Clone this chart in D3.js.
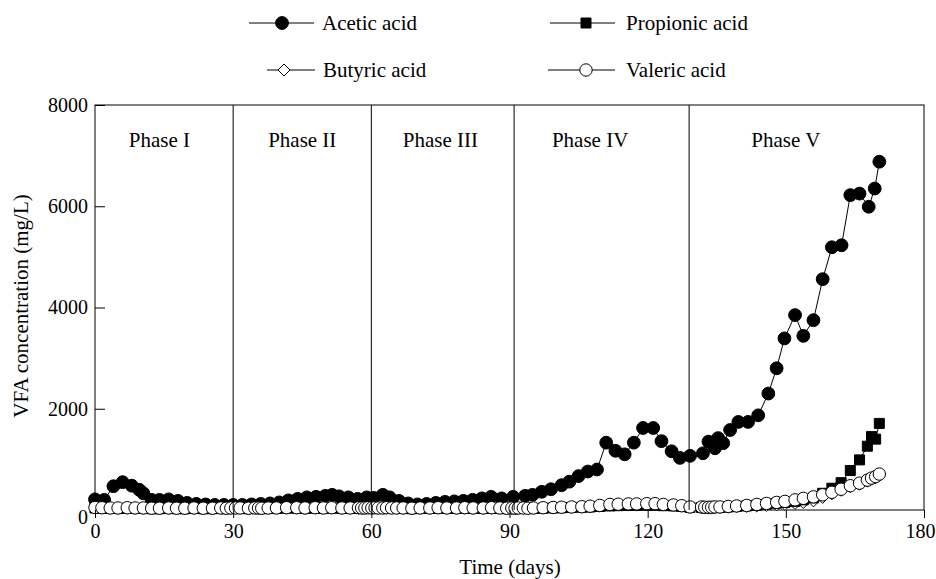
<!DOCTYPE html>
<html>
<head>
<meta charset="utf-8">
<script src="https://cdn.jsdelivr.net/npm/d3@7/dist/d3.min.js"></script>
<style>
  html, body { margin: 0; padding: 0; background: #fff; }
  svg text { font-family: "Liberation Serif", "Times New Roman", serif; fill: #000; }
</style>
</head>
<body>
<svg id="chart" width="936" height="579"></svg>
<script>
// ---------------- data ----------------
const aceticDays = [
  0, 2, 4, 6, 8, 9.6, 10.5, 12.3, 14, 16, 18, 20, 22, 24, 26, 28, 30,
  32, 34, 36, 38, 40, 42, 44, 46, 48, 50, 51.5, 53, 55, 57, 59,
  60.5, 62.5, 64, 66, 68, 70, 72, 74, 76, 78, 80, 82, 84, 86, 88.3, 90.8,
  93.4, 95, 97, 99, 101.3, 103, 105, 107, 109, 111, 113, 115, 117, 119, 121.2, 123, 125.2, 127, 129.2,
  132, 133.2, 134.6, 135.3, 136.4, 137.9, 139.7, 141.8, 144, 146.2, 148, 149.7, 152, 153.8, 156, 158, 160, 162.1, 164, 166, 168, 169.3, 170.3
];
const aceticAcid = [
  210, 200, 470, 550, 480, 400, 330, 200, 200, 210, 180, 140, 120, 110, 100, 100, 100,
  100, 110, 120, 130, 150, 190, 220, 250, 260, 280, 300, 270, 250, 220, 250,
  240, 300, 250, 180, 130, 110, 120, 140, 160, 170, 180, 200, 230, 260, 230, 260,
  280, 300, 360, 410, 490, 560, 670, 760, 800, 1330, 1170, 1100, 1330, 1620, 1620, 1360, 1160, 1030, 1070,
  1120, 1350, 1220, 1420, 1320, 1580, 1740, 1740, 1870, 2300, 2800, 3390, 3850, 3440, 3750, 4560, 5190, 5230, 6220, 6250, 5990, 6350, 6880
];

const otherDays = [
  0, 1.5, 3.3, 5, 7, 8.7, 10.5, 12.3, 14, 16, 17.7, 19.5, 21.5, 23.5, 25.5, 27.3, 28.5, 29.5,
  30.5, 31.5, 33.3, 34.7, 35.5, 36.2, 37.6, 39.4, 41.6, 43.8, 45.6, 47.8, 49.6, 51.4, 53.6, 55.4, 57.2, 57.9, 58.6, 59.3,
  60.1, 60.8, 61.5, 62.5, 63.3, 64.4, 65.5, 66.9, 68.8, 70.6, 72.7, 74.5, 76.4, 78.5, 80.3, 82.1, 84.3, 86.1, 87.9, 89.4, 90.5,
  91.2, 91.9, 93, 94, 95.2, 97.3, 99.5, 101.3, 103.5, 105.7, 107.5, 109.6, 111.8, 113.6, 115.8, 117.6, 119.8, 121.6, 123.4, 125.6, 127.4, 129.2,
  131.7, 132.4, 133.2, 133.9, 134.6, 135.7, 137.5, 139.3, 141.5, 143.7, 145.8, 148, 149.8, 152, 153.8, 156, 158, 160, 162, 164, 166, 167.7, 168.6, 169.5, 170.3
];
const propionicAcid = [
  40, 35, 30, 30, 35, 30, 30, 25, 25, 30, 25, 25, 30, 25, 25, 30, 25, 30,
  30, 30, 25, 30, 30, 25, 30, 30, 35, 35, 30, 35, 30, 35, 30, 30, 35, 30, 30, 35,
  30, 35, 30, 30, 35, 30, 30, 30, 25, 30, 30, 35, 30, 30, 35, 30, 30, 35, 30, 25, 30,
  30, 30, 30, 30, 30, 35, 40, 45, 50, 55, 60, 70, 80, 85, 90, 90, 95, 95, 85, 80, 70, 50,
  50, 45, 45, 45, 50, 50, 60, 70, 80, 95, 115, 135, 150, 170, 200, 240, 330, 430, 540, 780, 990, 1260, 1450, 1400, 1710
];
const butyricAcid = [
  45, 40, 35, 35, 40, 35, 35, 30, 30, 35, 30, 30, 35, 30, 30, 35, 30, 35,
  35, 35, 30, 35, 35, 30, 35, 35, 40, 40, 35, 40, 35, 40, 35, 35, 40, 35, 35, 40,
  35, 40, 35, 35, 40, 35, 35, 35, 30, 35, 35, 40, 35, 35, 40, 35, 35, 40, 35, 30, 35,
  30, 35, 35, 30, 35, 40, 45, 50, 55, 60, 65, 80, 95, 100, 105, 105, 110, 110, 100, 95, 75, 55,
  50, 45, 45, 45, 50, 50, 60, 65, 70, 80, 90, 100, 110, 130, 150, 180, 250, 320, 390, 460, 510, 570, 610, 640, 690
];
const valericAcid = [
  50, 45, 40, 40, 45, 40, 40, 35, 35, 40, 35, 35, 40, 35, 35, 40, 35, 40,
  40, 40, 35, 40, 40, 35, 40, 40, 45, 45, 40, 45, 40, 45, 40, 40, 45, 40, 40, 45,
  40, 45, 40, 40, 45, 40, 40, 40, 35, 40, 40, 45, 40, 40, 45, 40, 40, 45, 40, 35, 40,
  35, 40, 40, 35, 40, 45, 50, 55, 60, 65, 75, 90, 110, 115, 120, 120, 125, 125, 110, 100, 85, 60,
  60, 55, 55, 55, 60, 60, 70, 80, 90, 110, 130, 150, 170, 200, 230, 260, 300, 350, 410, 480, 530, 590, 630, 660, 710
];

const xTicks = [0, 30, 60, 90, 120, 150, 180];
const yTicks = [0, 2000, 4000, 6000, 8000];
const phaseBounds = [30, 60, 91, 129];
const phaseNames = ["Phase I", "Phase II", "Phase III", "Phase IV", "Phase V"];
const phaseLabelDays = [14, 45, 75, 107.5, 150];
const seriesNames = ["Acetic acid", "Propionic acid", "Butyric acid", "Valeric acid"];

// ---------------- layout ----------------
const svg = d3.select("#chart");
const L = 95, R = 924, T = 105, B = 510;
const x = d3.scaleLinear().domain([0, 180]).range([L, R]);
const y = d3.scaleLinear().domain([0, 8000]).range([B, T]);

// frame
svg.append("rect").attr("x", L).attr("y", T).attr("width", R - L).attr("height", B - T)
  .attr("fill", "none").attr("stroke", "#000").attr("stroke-width", 1);

// y axis (inward ticks)
const yAxis = svg.append("g").attr("transform", `translate(${L},0)`)
  .call(d3.axisLeft(y).tickValues(yTicks).tickSize(-10).tickPadding(7).tickFormat(d3.format("d")));
yAxis.select(".domain").remove();
yAxis.selectAll("line").attr("stroke", "#000");
yAxis.selectAll("text").style("font-size", "20px").style("font-family", '"Liberation Serif", serif')
  .attr("dy", d => d === 0 ? "0.66em" : "0.32em");

// ---------------- series ----------------
const line = d3.line().x(d => x(d[0])).y(d => y(d[1]));
const acetic = d3.zip(aceticDays, aceticAcid);
const propionic = d3.zip(otherDays, propionicAcid);
const butyric = d3.zip(otherDays, butyricAcid);
const valeric = d3.zip(otherDays, valericAcid);

// rhombus: square rotated 45 degrees
const rhombus = {
  draw(ctx, size) {
    const r = Math.sqrt(size / 2);
    ctx.moveTo(0, -r); ctx.lineTo(r, 0); ctx.lineTo(0, r); ctx.lineTo(-r, 0); ctx.closePath();
  }
};
const symCircle = d3.symbol().type(d3.symbolCircle).size(Math.PI * 6.4 * 6.4);
const symSquare = d3.symbol().type(d3.symbolSquare).size(100);
const symDiamond = d3.symbol().type(rhombus).size(72);
const symOpen = d3.symbol().type(d3.symbolCircle).size(Math.PI * 6.2 * 6.2);

function drawSeries(data, sym, fill) {
  const g = svg.append("g");
  g.append("path").datum(data).attr("d", line).attr("fill", "none")
    .attr("stroke", "#000").attr("stroke-width", 1);
  g.selectAll("path.m").data(data).join("path").attr("class", "m")
    .attr("transform", d => `translate(${x(d[0])},${y(d[1])})`)
    .attr("d", sym).attr("fill", fill).attr("stroke", "#000").attr("stroke-width", 1);
}
drawSeries(acetic, symCircle, "#000");
drawSeries(butyric, symDiamond, "#fff");
drawSeries(propionic, symSquare, "#000");
drawSeries(valeric, symOpen, "#fff");

// phase separators (on top)
svg.append("g").selectAll("line").data(phaseBounds).join("line")
  .attr("x1", d => x(d)).attr("x2", d => x(d)).attr("y1", T).attr("y2", B)
  .attr("stroke", "#000").attr("stroke-width", 1);

svg.append("g").selectAll("text").data(phaseNames).join("text")
  .attr("x", (d, i) => x(phaseLabelDays[i])).attr("y", 147)
  .attr("text-anchor", "middle").style("font-size", "21px").text(d => d);

// x axis (outward ticks)
const xAxis = svg.append("g").attr("transform", `translate(0,${B})`)
  .call(d3.axisBottom(x).tickValues(xTicks).tickSize(8).tickPadding(6).tickFormat(d3.format("d")));
xAxis.select(".domain").remove();
xAxis.selectAll("line").attr("stroke", "#000");
xAxis.selectAll("text").style("font-size", "20px").style("font-family", '"Liberation Serif", serif')
  .attr("dx", d => d === 180 ? "-0.2em" : "0");

// axis titles
svg.append("text").attr("x", 510).attr("y", 574).attr("text-anchor", "middle")
  .style("font-size", "21px").text("Time (days)");
svg.append("text").attr("transform", "translate(28,306) rotate(-90)").attr("text-anchor", "middle")
  .style("font-size", "21px").text("VFA concentration (mg/L)");

// ---------------- legend ----------------
const legendItems = [
  { name: seriesNames[0], sym: symCircle, fill: "#000", x1: 249, x2: 314, mx: 282, tx: 322, ly: 23 },
  { name: seriesNames[1], sym: symSquare, fill: "#000", x1: 550, x2: 615, mx: 586, tx: 626, ly: 23 },
  { name: seriesNames[2], sym: symDiamond, fill: "#fff", x1: 267, x2: 315, mx: 284, tx: 323, ly: 70 },
  { name: seriesNames[3], sym: symOpen, fill: "#fff", x1: 548, x2: 615, mx: 586, tx: 626, ly: 70 }
];
const lg = svg.append("g").selectAll("g").data(legendItems).join("g");
lg.append("line").attr("x1", d => d.x1).attr("x2", d => d.x2).attr("y1", d => d.ly).attr("y2", d => d.ly)
  .attr("stroke", "#000").attr("stroke-width", 1);
lg.append("path").attr("transform", d => `translate(${d.mx},${d.ly})`).attr("d", d => d.sym())
  .attr("fill", d => d.fill).attr("stroke", "#000").attr("stroke-width", 1);
lg.append("text").attr("x", d => d.tx).attr("y", d => d.ly + 7).style("font-size", "21px").text(d => d.name);
</script>
</body>
</html>
